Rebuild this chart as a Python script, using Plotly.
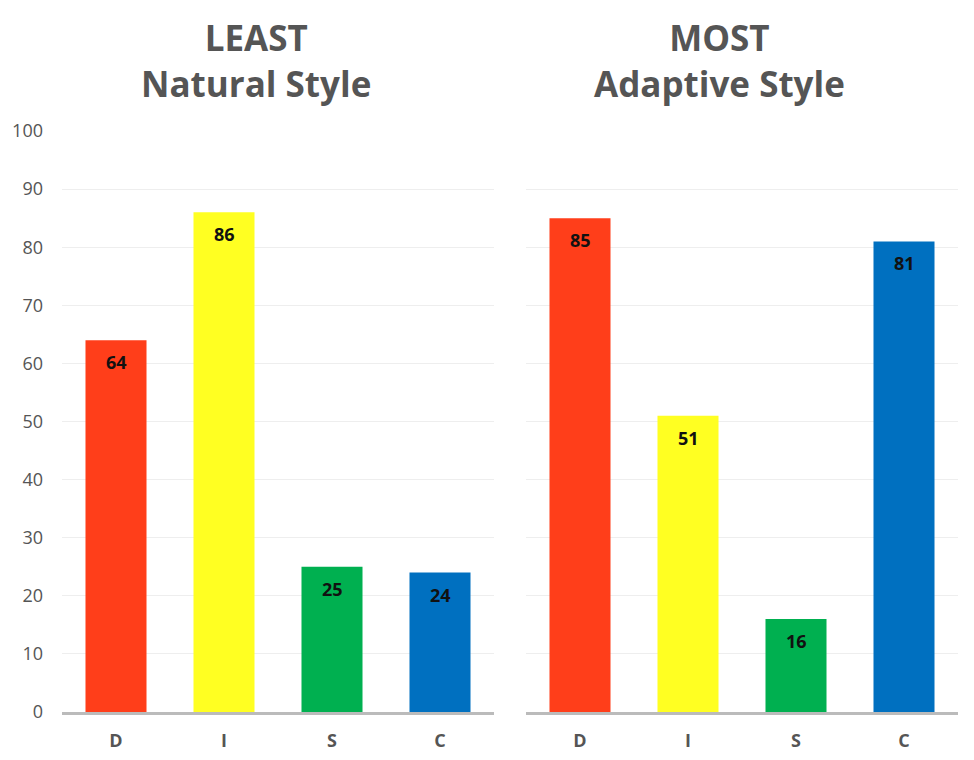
import plotly.graph_objects as go

categories = ["D", "I", "S", "C"]
least_values = [64, 86, 25, 24]
most_values = [85, 51, 16, 81]
bar_colors = ["#FF3E1A", "#FFFF22", "#00B050", "#0070C0"]
titles = ["<b>LEAST<br>Natural Style</b>", "<b>MOST<br>Adaptive Style</b>"]
y_ticks = [0, 10, 20, 30, 40, 50, 60, 70, 80, 90, 100]

OFF = 8  # page body offset
W, H = 966, 752
ml, mr, mt, mb = 62 - OFF, OFF + W - 958, 131 - OFF, OFF + H - 712
pw = W - ml - mr
ph = H - mt - mb

fig = go.Figure()
for vals, xa, ya in [(least_values, "x", "y"), (most_values, "x2", "y2")]:
    fig.add_trace(go.Bar(x=categories, y=vals, marker=dict(color=bar_colors, line_width=0),
                         xaxis=xa, yaxis=ya, showlegend=False, hoverinfo="skip"))
    for c, v in zip(categories, vals):
        fig.add_annotation(x=c, y=v, xref=xa, yref=ya, text="<b>%d</b>" % v, showarrow=False,
                           yanchor="top", xanchor="center", yshift=-8,
                           font=dict(family="Open Sans", size=18, color="#111"))

d1 = [0, 432 / pw]
d2 = [464 / pw, 1]
xcommon = dict(showgrid=False, showline=True, linecolor="#BBBBBB", linewidth=3,
               tickfont=dict(family="Open Sans", size=18, color="#555"),
               ticks="", ticklabelstandoff=10, automargin=False)
ycommon = dict(range=[0, 100], tickvals=y_ticks, showgrid=True, gridcolor="#EEEEEE",
               gridwidth=1, zeroline=False, showline=False, automargin=False,
               tickfont=dict(family="Open Sans", size=18, color="#555"))

fig.update_layout(
    width=W, height=H,
    margin=dict(l=ml, r=mr, t=mt, b=mb),
    paper_bgcolor="white", plot_bgcolor="white",
    bargap=0.435,
    font=dict(family="Open Sans"),
    xaxis=dict(domain=d1, anchor="y", tickvals=categories,
               ticktext=["<b>%s</b>" % c for c in categories], **xcommon),
    xaxis2=dict(domain=d2, anchor="y2", tickvals=categories,
                ticktext=["<b>%s</b>" % c for c in categories], **xcommon),
    yaxis=dict(domain=[0, 1], anchor="x", ticklabelstandoff=18, **ycommon),
    yaxis2=dict(domain=[0, 1], anchor="x2", showticklabels=False, **ycommon),
)

title_cx = [256, 719]
title_cy = 60.5
for cx, t in zip(title_cx, titles):
    fig.add_annotation(x=(cx - OFF - ml) / pw, y=1 + (131 - title_cy) / ph,
                       xref="paper", yref="paper", text=t, showarrow=False,
                       font=dict(family="Open Sans", size=35, color="#555"),
                       xanchor="center", yanchor="middle", align="center")

fig.write_html("out.html")
